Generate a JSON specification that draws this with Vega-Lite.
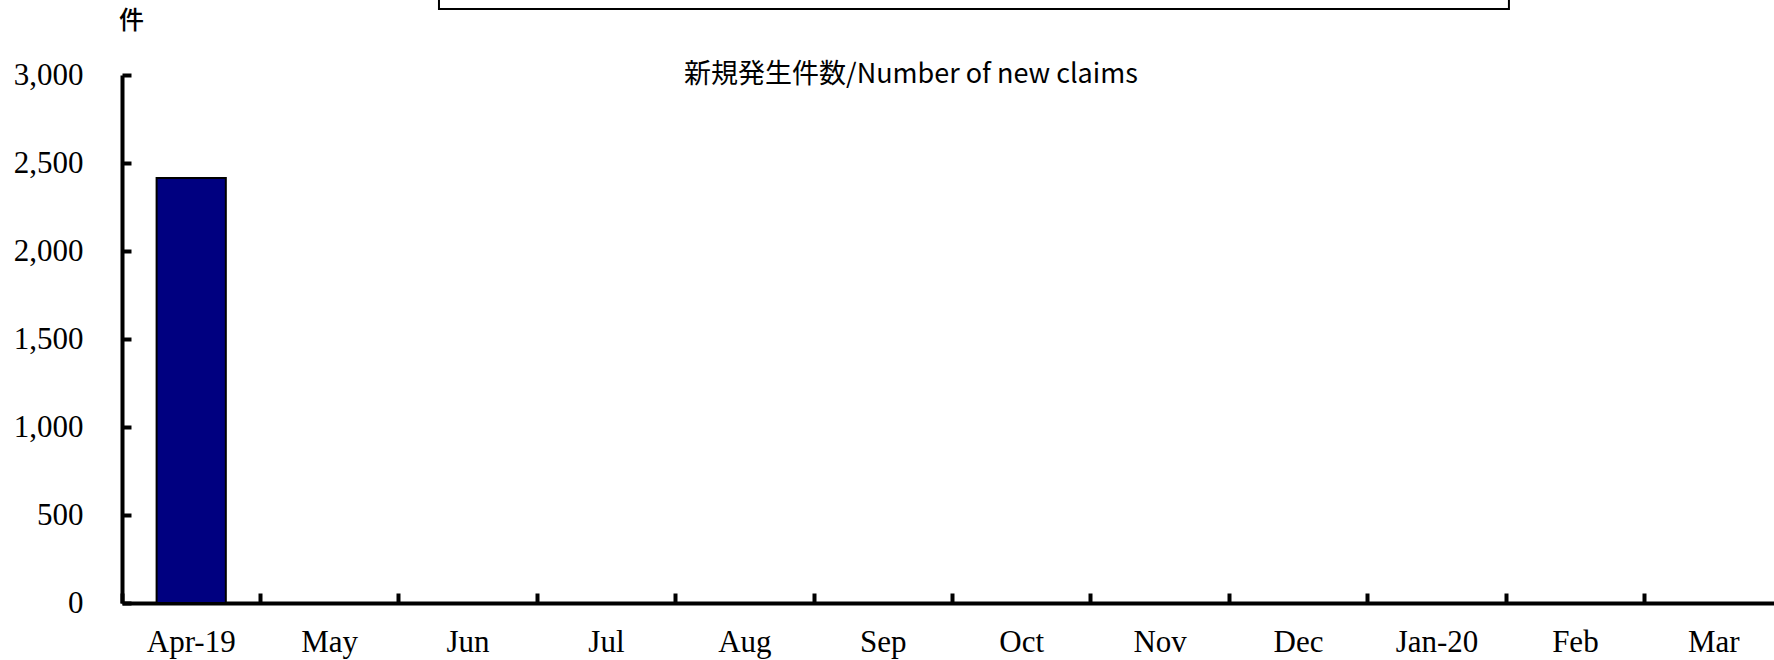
{
  "$schema": "https://vega.github.io/schema/vega-lite/v6.json",
  "autosize": {"type": "none"},
  "padding": {"left": 122, "top": 75, "right": 0, "bottom": 57},
  "width": 1652,
  "height": 528,
  "background": "white",
  "config": {"view": {"stroke": null}},
  "data": {"values": [
    {"month": "Apr-19", "claims": 2415},
    {"month": "May", "claims": null},
    {"month": "Jun", "claims": null},
    {"month": "Jul", "claims": null},
    {"month": "Aug", "claims": null},
    {"month": "Sep", "claims": null},
    {"month": "Oct", "claims": null},
    {"month": "Nov", "claims": null},
    {"month": "Dec", "claims": null},
    {"month": "Jan-20", "claims": null},
    {"month": "Feb", "claims": null},
    {"month": "Mar", "claims": null}
  ]},
  "encoding": {
    "y": {
      "field": "claims", "type": "quantitative",
      "scale": {"domain": [0, 3000], "nice": false, "zero": true},
      "axis": {
        "values": [0, 500, 1000, 1500, 2000, 2500, 3000],
        "format": ",d",
        "grid": false,
        "title": "件",
        "titleAngle": 0,
        "titleX": 9,
        "titleY": -55,
        "titleAlign": "center",
        "titleBaseline": "middle",
        "titleFont": "Noto Sans CJK JP",
        "titleFontSize": 25,
        "titleFontWeight": 500,
        "titleColor": "black",
        "domainColor": "black",
        "domainWidth": 4,
        "tickColor": "black",
        "tickWidth": 4,
        "tickSize": -9,
        "labelFont": "Liberation Serif",
        "labelFontSize": 31,
        "labelColor": "black",
        "labelPadding": 48
      }
    }
  },
  "layer": [
    {
      "mark": {"type": "bar", "width": {"band": 0.5}, "fill": "#000080", "stroke": "black", "strokeWidth": 2},
      "encoding": {
        "x": {
          "field": "month", "type": "nominal", "sort": null,
          "scale": {"domain": ["Apr-19", "May", "Jun", "Jul", "Aug", "Sep", "Oct", "Nov", "Dec", "Jan-20", "Feb", "Mar"], "range": [0, 1661], "paddingInner": 0, "paddingOuter": 0},
          "axis": {
            "title": null,
            "labelAngle": 0,
            "bandPosition": 0,
            "domainColor": "black",
            "domainWidth": 4,
            "tickColor": "black",
            "tickWidth": 4,
            "tickSize": -10,
            "labelFont": "Liberation Serif",
            "labelFontSize": 31,
            "labelColor": "black",
            "labelPadding": 34
          }
        }
      }
    },
    {
      "encoding": {
        "x": {"datum": 2.29, "type": "quantitative", "scale": {"domain": [0, 12], "range": [0, 1661]}, "axis": null}
      },
      "layer": [
        {
          "mark": {"type": "rect", "fill": null, "stroke": "black", "strokeWidth": 2},
          "encoding": {
            "x": {"datum": 2.29, "type": "quantitative"},
            "x2": {"datum": 10.02},
            "y": {"datum": 3375, "type": "quantitative"},
            "y2": {"datum": 4000}
          }
        },
        {
          "mark": {"type": "text", "text": "新規発生件数/Number of new claims", "font": "Noto Sans CJK JP", "fontSize": 27, "color": "black", "baseline": "middle", "align": "center"},
          "encoding": {
            "x": {"datum": 5.7, "type": "quantitative"},
            "y": {"datum": 3000, "type": "quantitative"}
          }
        }
      ]
    }
  ],
  "resolve": {"scale": {"x": "independent"}, "axis": {"x": "independent"}}
}
